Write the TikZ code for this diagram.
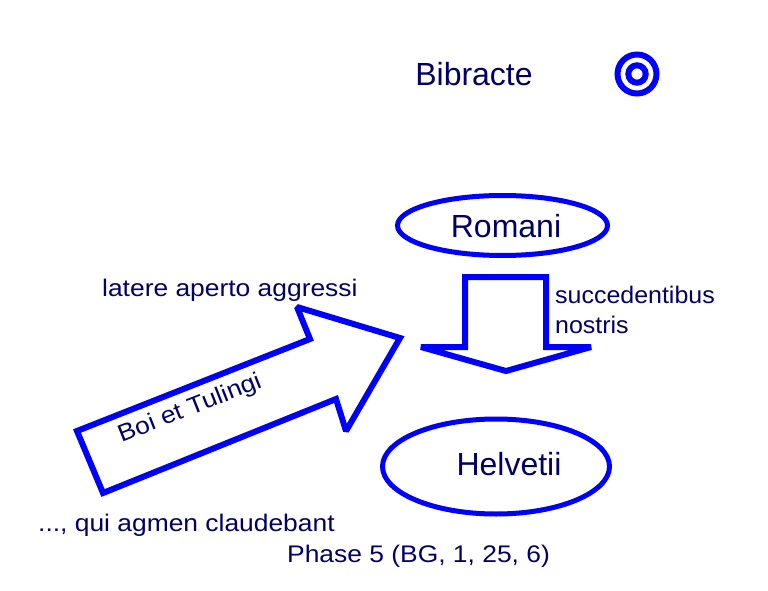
\documentclass[tikz,border=0pt]{standalone}
\usepackage{fontspec}
\setmainfont{Liberation Sans}
\usetikzlibrary{shapes.geometric}
\definecolor{navy}{RGB}{0,0,102}
\definecolor{pureblue}{RGB}{0,0,255}
\newcommand{\sx}[1]{\scalebox{1.1}[1]{#1}}
\tikzset{
  bigtext/.style={font=\fontsize{32}{38}\selectfont, text=navy, inner sep=0pt},
  smalltext/.style={font=\fontsize{24}{30}\selectfont, text=navy, inner sep=0pt},
  blueline/.style={draw=pureblue, line width=6pt, line join=miter, miter limit=2.2},
  oval/.style={ellipse, draw=pureblue, line width=5pt, inner sep=0pt}
}
\begin{document}
\begin{tikzpicture}[x=1pt,y=-1pt]
\useasboundingbox[fill=white] (0,0) rectangle (768,591);

% Bibracte
\node[bigtext, anchor=base] (bibracte) at (474,86) {Bibracte};
\draw[blueline] (637,74) circle (19.5pt);
\draw[blueline] (637,74) circle (8.7pt);

% Romani
\node[oval, minimum width=210pt, minimum height=60pt] (romaniE) at (502.5,225.5) {};
\node[bigtext, anchor=base] (romani) at (506,237) {Romani};

% down arrow
\draw[blueline] (465,277) -- (546,277) -- (546,347) -- (591,347) -- (506,371)
  -- (421,347) -- (465,347) -- cycle;
\node[smalltext, anchor=base west] (succ) at (555,303) {\scalebox{1.04}[1]{succedentibus}};
\node[smalltext, anchor=base west] (nostris) at (555,333) {\scalebox{1.04}[1]{nostris}};

% big diagonal arrow
\draw[blueline] (77,431) -- (310,339) -- (297,307) -- (400,338) -- (346,431)
  -- (336,399) -- (103,493) -- cycle;
\node[smalltext, rotate=21.5] (boi) at (190,409) {\sx{Boi et Tulingi}};
\node[smalltext, anchor=base west] (latere) at (102,296) {\sx{latere aperto aggressi}};

% Helvetii
\node[oval, minimum width=227pt, minimum height=95pt] (helvE) at (496,466.5) {};
\node[bigtext, anchor=base] (helv) at (509,475) {Helvetii};

% bottom texts
\node[smalltext, anchor=base west] (qui) at (38,531) {\sx{..., qui agmen claudebant}};
\node[smalltext, anchor=base west] (phase) at (287,562) {\sx{Phase 5 (BG, 1, 25, 6)}};
\end{tikzpicture}
\end{document}
